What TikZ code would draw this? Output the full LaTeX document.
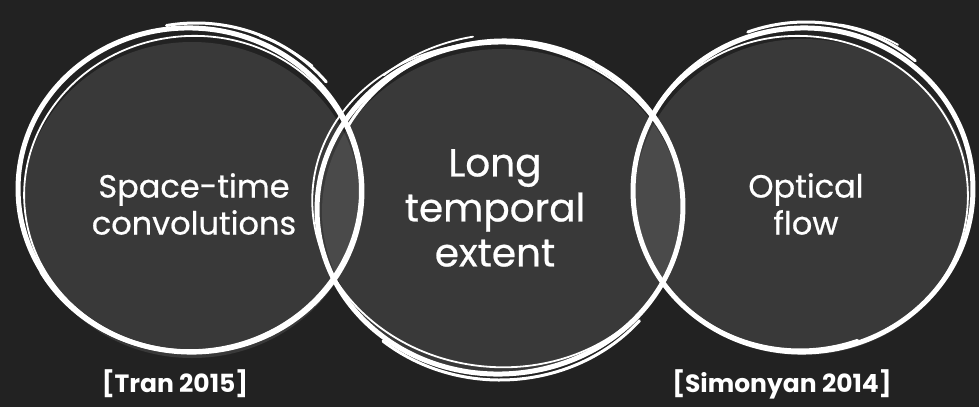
\documentclass[tikz,border=0pt]{standalone}
\usepackage{fontspec}
\setmainfont{Poppins}
\newfontfamily\labelfont[FakeBold=0.6]{Poppins}
\definecolor{bg}{RGB}{34,34,34}
\definecolor{discfill}{RGB}{120,120,120}
\tikzset{
  disc/.style={fill=discfill, fill opacity=0.28},
  chalk/.style={draw=white, line width=5pt, line cap=round},
  chalkmid/.style={draw=white, line width=3pt, line cap=round},
  chalkthin/.style={draw=white, line width=1.8pt, line cap=round},
  label/.style={text=white, align=center, font=\labelfont\fontsize{32}{37}\selectfont},
  biglabel/.style={text=white, align=center, font=\labelfont\fontsize{39}{45}\selectfont},
  cite/.style={text=white, font=\fontsize{25}{28}\selectfont\bfseries}
}
\begin{document}
\begin{tikzpicture}[x=1pt,y=-1pt]
\fill[bg] (0,0) rectangle (979,407);
\useasboundingbox (0,0) rectangle (979,407);
% discs
\fill[disc] (192,200) ellipse [x radius=168, y radius=158];
\fill[disc] (502,212) ellipse [x radius=180, y radius=163];
\fill[disc] (803,197) ellipse [x radius=168, y radius=158];
% left outline
\draw[chalk] (190,190) ellipse [x radius=172, y radius=162, rotate=-4];
\draw[chalkthin] (192,193) ellipse [x radius=168, y radius=157, rotate=6];
\draw[chalkmid,shift={(196,188)}] (-100:170 and 165) arc [start angle=-100, end angle=-40, x radius=170, y radius=165];
\draw[chalkthin,shift={(200,196)}] (-70:175 and 170) arc [start angle=-70, end angle=-50, x radius=175, y radius=170];
\draw[chalkmid,shift={(188,192)}] (60:170 and 160) arc [start angle=60, end angle=150, x radius=170, y radius=160];
% middle outline
\draw[chalk] (500,208) ellipse [x radius=183, y radius=166, rotate=3];
\draw[chalkthin] (498,205) ellipse [x radius=186, y radius=162, rotate=-6];
\draw[chalkmid,shift={(504,212)}] (-150:180 and 172) arc [start angle=-150, end angle=-60, x radius=180, y radius=172];
\draw[chalkmid,shift={(500,214)}] (40:182 and 166) arc [start angle=40, end angle=130, x radius=182, y radius=166];
\draw[chalkthin,shift={(506,210)}] (-130:190 and 176) arc [start angle=-130, end angle=-100, x radius=190, y radius=176];
% right outline
\draw[chalk] (803,190) ellipse [x radius=170, y radius=162, rotate=4];
\draw[chalkthin] (800,194) ellipse [x radius=168, y radius=158, rotate=-6];
\draw[chalkmid,shift={(806,188)}] (-110:170 and 166) arc [start angle=-110, end angle=-50, x radius=170, y radius=166];
\draw[chalkthin,shift={(810,192)}] (-80:176 and 170) arc [start angle=-80, end angle=-60, x radius=176, y radius=170];
\draw[chalkmid,shift={(800,190)}] (70:168 and 160) arc [start angle=70, end angle=170, x radius=168, y radius=160];
% texts
\node[label] (stc) at (194,204) {Space-time\\convolutions};
\node[biglabel] (lte) at (495,208) {Long\\temporal\\extent};
\node[label] (of) at (806,204) {Optical\\flow};
\node[cite] (tran) at (175,384) {[Tran 2015]};
\node[cite] (simo) at (782,384) {[Simonyan 2014]};
\end{tikzpicture}
\end{document}
